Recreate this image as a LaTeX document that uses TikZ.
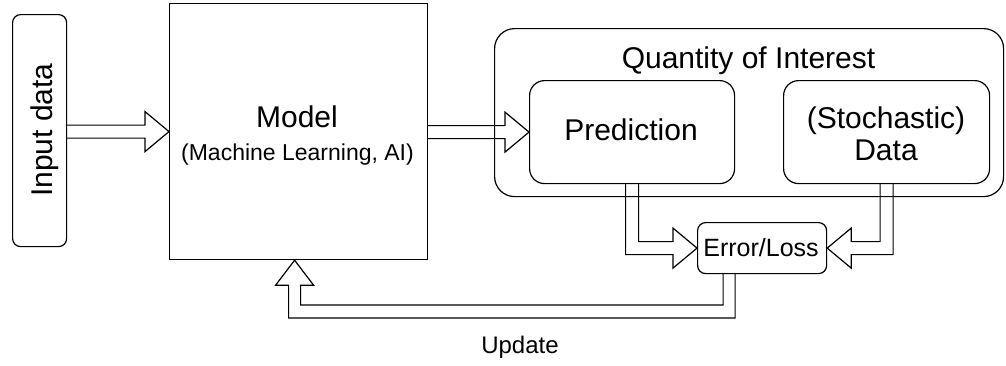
\documentclass[tikz,border=0pt]{standalone}
\usepackage{fontspec}
\setmainfont{Liberation Sans}
\usetikzlibrary{calc}
\begin{document}
\begin{tikzpicture}[x=1pt,y=-1pt,line width=1.2pt,
  box/.style={draw, rectangle, inner sep=0pt, anchor=north west},
  rbox/.style={box, rounded corners=#1},
  big/.style={font=\fontsize{30}{36}\selectfont, inner sep=0pt, anchor=base},
  flex/.style={draw, line width=1.2pt, line join=miter}]
\useasboundingbox (0,0) rectangle (1006,365);
% boxes
\node[rbox=8pt, minimum width=54pt, minimum height=232pt] (inp) at (12,14) {};
\node[box, minimum width=258pt, minimum height=256pt] (model) at (169,3) {};
\node[rbox=20pt, minimum width=509pt, minimum height=168pt] (qoi) at (494,28) {};
\node[rbox=15pt, minimum width=205pt, minimum height=103pt] (pred) at (529,80) {};
\node[rbox=15pt, minimum width=206pt, minimum height=103pt] (data) at (783,80) {};
\node[rbox=8pt, minimum width=129pt, minimum height=51pt] (err) at (697,222) {};
% texts
\node[font=\fontsize{30}{36}\selectfont, rotate=90, inner sep=0pt] (inptxt) at (45,130) {Input data};
\node[big] (modeltxt) at (297,127) {Model};
\node[font=\fontsize{23}{28}\selectfont, inner sep=0pt, anchor=base] (modelsub) at (297.5,160) {(Machine Learning, AI)};
\node[big] (qoitxt) at (748.5,68) {Quantity of Interest};
\node[big] (predtxt) at (631,140) {Prediction};
\node[big] (datatxt1) at (886,128) {(Stochastic)};
\node[big] (datatxt2) at (886,160) {Data};
\node[font=\fontsize{25}{30}\selectfont, inner sep=0pt, anchor=base] (errtxt) at (761,256.5) {Error/Loss};
\node[font=\fontsize{24}{29}\selectfont, inner sep=0pt, anchor=base] (updtxt) at (520,353) {Update};
% arrow: input -> model
\coordinate (a1s) at (inp.east |- model.west);
\draw[flex] ($(a1s)+(0,-6.5)$) -- ($(model.west)+(-24,-6.5)$) -- ($(model.west)+(-24,-20)$) -- (model.west)
  -- ($(model.west)+(-24,20)$) -- ($(model.west)+(-24,6.5)$) -- ($(a1s)+(0,6.5)$);
% arrow: model -> prediction
\coordinate (a2s) at (model.east |- pred.west);
\draw[flex] ($(a2s)+(0,-6.5)$) -- ($(pred.west)+(-24,-6.5)$) -- ($(pred.west)+(-24,-20)$) -- (pred.west)
  -- ($(pred.west)+(-24,20)$) -- ($(pred.west)+(-24,6.5)$) -- ($(a2s)+(0,6.5)$);
% arrow: prediction -> error
\coordinate (c3) at (pred.south |- err.west);
\draw[flex] ($(pred.south)+(-6.5,0)$) -- ($(c3)+(-6.5,6.5)$) -- ($(err.west)+(-24,6.5)$) -- ($(err.west)+(-24,20)$)
  -- (err.west) -- ($(err.west)+(-24,-20)$) -- ($(err.west)+(-24,-6.5)$) -- ($(c3)+(6.5,-6.5)$) -- ($(pred.south)+(6.5,0)$);
% arrow: data -> error
\coordinate (c4) at (data.south |- err.east);
\draw[flex] ($(data.south)+(6.5,0)$) -- ($(c4)+(6.5,6.5)$) -- ($(err.east)+(24,6.5)$) -- ($(err.east)+(24,20)$)
  -- (err.east) -- ($(err.east)+(24,-20)$) -- ($(err.east)+(24,-6.5)$) -- ($(c4)+(-6.5,-6.5)$) -- ($(data.south)+(-6.5,0)$);
% arrow: error -> model (update)
\coordinate (u0) at ($(err.south)+(-33,0)$);
\coordinate (ucorner) at (u0 |- 0,311.5);
\coordinate (utip) at ($(model.south)+(-4,0)$);
\coordinate (ucorner2) at (utip |- ucorner);
\draw[flex] ($(u0)+(6,0)$) -- ($(ucorner)+(6,6.5)$) -- ($(ucorner2)+(-6,6.5)$) -- ($(utip)+(-6,25)$) -- ($(utip)+(-19,25)$)
  -- (utip) -- ($(utip)+(19,25)$) -- ($(utip)+(6,25)$) -- ($(ucorner2)+(6,-6.5)$) -- ($(ucorner)+(-6,-6.5)$) -- ($(u0)+(-6,0)$);
\end{tikzpicture}
\end{document}
